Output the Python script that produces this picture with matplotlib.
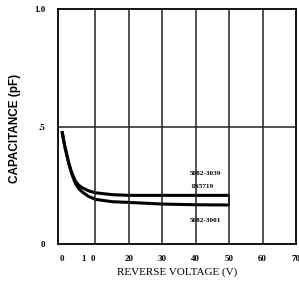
import matplotlib
matplotlib.use("Agg")
import matplotlib.pyplot as plt
import numpy as np

# Werte
volts = [0, 0.5, 1, 1.5, 2, 2.5, 3, 4, 5, 6, 8, 10, 15, 20, 30, 40, 50]
c_upper = [0.48, 0.44, 0.405, 0.375, 0.345, 0.32, 0.30, 0.268, 0.25, 0.24, 0.226, 0.218, 0.21, 0.207, 0.207, 0.207, 0.207]
c_lower = [0.48, 0.44, 0.405, 0.375, 0.345, 0.32, 0.295, 0.258, 0.236, 0.222, 0.202, 0.19, 0.18, 0.177, 0.170, 0.167, 0.166]

xticks = [0, 10, 20, 30, 40, 50, 60, 70]
xticklabels = ["0", "1  0", "20", "30", "40", "50", "60", "70"]
yticks = [0, 0.5, 1.0]
yticklabels = ["0", ".5", "1.0"]

labels = ["5082-3039", "1N5719", "5082-3001"]
label_pos = [(38.3, 0.302), (38.3, 0.243), (38.3, 0.098)]

fig = plt.figure(figsize=(2.99, 2.91), dpi=100)
ax = fig.add_axes([0.194, 0.1615, 0.796, 0.8075])

ax.plot(volts, c_upper, color="black", lw=2.2, solid_capstyle="butt", solid_joinstyle="round")
ax.plot(volts, c_lower, color="black", lw=2.2, solid_capstyle="butt", solid_joinstyle="round")
# kleine senkrechte Verbindung am Ende
ax.plot([volts[-1], volts[-1]], [c_upper[-1], c_lower[-1]], color="black", lw=1.2)

ax.set_xlim(-1.2, 70)
ax.set_ylim(0, 1.0)

for v in xticks[1:-1]:
    ax.axvline(v, color="#222222", lw=1.1)
ax.axhline(0.5, color="#222222", lw=1.1)

for s in ax.spines.values():
    s.set_linewidth(1.3)
    s.set_color("black")

ax.set_xticks(xticks)
ax.set_xticklabels(xticklabels, family="Liberation Serif", fontsize=6.5, fontweight="bold")
ax.get_xticklabels()[1].set_ha("right")
ax.set_yticks(yticks)
ax.set_yticklabels(yticklabels, family="Liberation Serif", fontsize=6.5, fontweight="bold")
ax.tick_params(length=0, pad=8)
ax.tick_params(axis="y", pad=9)

for txt, (x, y) in zip(labels, label_pos):
    ax.text(x, y, txt, family="Liberation Serif", fontsize=5.2, fontweight="bold",
            ha="left", va="center")

ax.set_xlabel("REVERSE VOLTAGE (V)", family="Liberation Serif", fontsize=8,
              labelpad=3)
fig.text(0.05, 0.56, "CAPACITANCE (pF)", rotation=90, family="Liberation Sans",
         fontsize=8.5, fontweight="bold", ha="center", va="center")

fig.savefig("out.png", dpi=100)
